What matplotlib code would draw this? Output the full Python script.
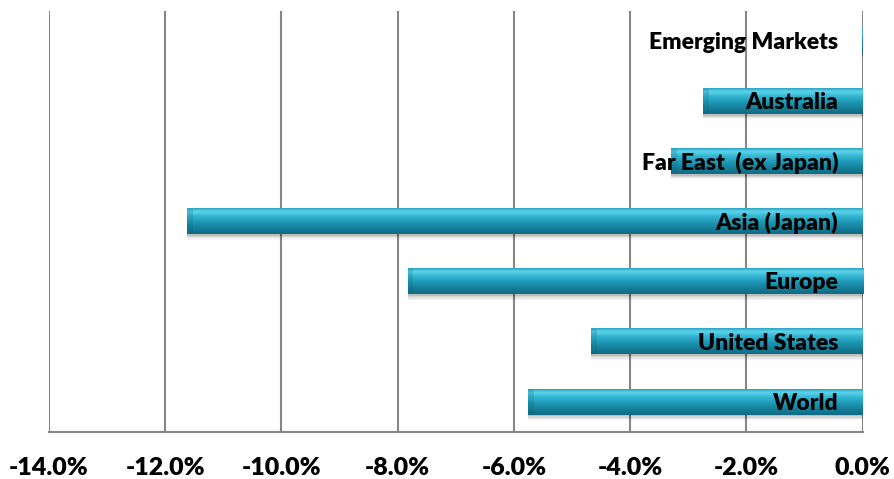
import numpy as np
import matplotlib.pyplot as plt
from matplotlib.colors import LinearSegmentedColormap

regions = ['Emerging Markets', 'Australia', 'Far East  (ex Japan)', 'Asia (Japan)',
           'Europe', 'United States', 'World']
returns = [-0.005, -2.74, -3.29, -11.63, -7.83, -4.67, -5.75]
xticks = [-14, -12, -10, -8, -6, -4, -2, 0]

plt.rcParams['font.family'] = ['Lato', 'DejaVu Sans']

fig = plt.figure(figsize=(8.94, 4.79), dpi=100)
ax = fig.add_axes([0.0548, 0.098, 0.91, 0.879])

y = np.arange(len(regions))
h = 0.42

# vertical shading for the tube look, light on top, darker below
shade = LinearSegmentedColormap.from_list('tube', [
    (0.0, '#2aa3bf'), (0.12, '#5ed5ec'), (0.3, '#35b8d5'),
    (0.55, '#1c97b4'), (0.85, '#137891'), (1.0, '#106c84')])
grad = np.linspace(0, 1, 64).reshape(-1, 1)

for yi, v in zip(y, returns):
    # soft drop shadow
    for k, a in enumerate([0.10, 0.08, 0.06, 0.04]):
        off = 0.03 + k * 0.02
        ax.barh(yi + off, v, height=h, left=0, color='black', alpha=a,
                linewidth=0, zorder=2)
    ax.imshow(grad, cmap=shade, aspect='auto', interpolation='bicubic',
              extent=[v, 0, yi + h / 2, yi - h / 2], zorder=3)
    # darker bevel on the left cap
    cap = min(0.1, abs(v))
    ax.barh(yi, cap, height=h, left=v, color='#0d5f74', alpha=0.2,
            linewidth=0, zorder=4)

for yi, name in zip(y, regions):
    ax.text(-0.42, yi + 0.02, name, ha='right', va='center', fontsize=16.5,
            fontweight='heavy', color='black', zorder=5)

ax.set_xlim(-14, 0)
ax.set_ylim(len(regions) - 0.5, -0.5)
ax.set_xticks(xticks)
ax.set_xticklabels([f'{t:.1f}%' for t in xticks], fontsize=18, fontweight='heavy')
ax.set_yticks([])
ax.tick_params(axis='x', length=0, pad=18)
ax.grid(axis='x', color='#868686', linewidth=1.5, zorder=0)
ax.set_axisbelow(True)
for s in ['top', 'right', 'left']:
    ax.spines[s].set_visible(False)
ax.spines['bottom'].set_color('#868686')
ax.spines['bottom'].set_linewidth(1.5)

fig.savefig('out.png', dpi=100)
